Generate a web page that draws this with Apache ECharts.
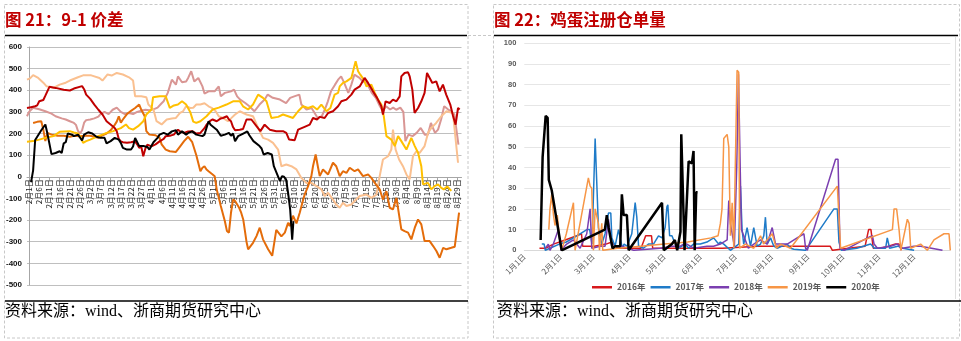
<!DOCTYPE html>
<html><head><meta charset="utf-8">
<script src="https://cdn.jsdelivr.net/npm/echarts@6/dist/echarts.min.js"></script>
<style>html,body{margin:0;padding:0;background:#fff}#c{width:961px;height:341px}</style>
</head><body><div id="c"></div>
<script>
// ---------- Left chart: 9-1 spread (x = days since 2月1日) ----------
const leftTickDays = [0,5,10,15,20,25,30,35,40,45,50,55,60,65,70,75,80,85,90,95,100,105,110,115,120,125,130,135,140,145,150,155,160,165,170,175,180,185,190,195,200,205,210];
const leftTickLabels = ['2月1日','2月6日','2月11日','2月16日','2月21日','2月26日','3月2日','3月7日','3月12日','3月17日','3月22日','3月27日','4月1日','4月6日','4月11日','4月16日','4月21日','4月26日','5月1日','5月6日','5月11日','5月16日','5月21日','5月26日','5月31日','6月5日','6月10日','6月15日','6月20日','6月25日','6月30日','7月5日','7月10日','7月15日','7月20日','7月25日','7月30日','8月4日','8月9日','8月14日','8月19日','8月24日','8月29日'];

const spreadPink = [[-1,280],[0,300],[2,319],[5,312],[8,303],[11,292],[13,280],[16,270],[18,265],[20,257],[22,249],[23,240],[24,212],[25,200],[26,215],[27,250],[28,262],[30,265],[32,270],[34,278],[35,290],[37,300],[39,290],[41,310],[43,320],[45,300],[47,290],[49,295],[51,290],[53,300],[55,305],[57,310],[59,308],[61,312],[63,320],[65,340],[66,349],[68,388],[69,418],[70,449],[72,426],[73,464],[75,437],[77,441],[78,457],[79.5,488],[81,441],[83,457],[85,418],[86,385],[88,395],[91,395],[93,418],[94,372],[96,388],[99,395],[100.5,403],[102,372],[103.5,357],[106,341],[108,326],[110.5,303],[113,334],[115.5,357],[117,380],[119.5,365],[123,357],[126,341],[128,365],[130,372],[132.5,380],[133.5,334],[136,311],[138.5,318],[140,295],[141.5,272],[143.5,280],[145,311],[146.5,349],[148,395],[150,426],[151.5,449],[153,464],[154.5,434],[156.5,388],[158,426],[159.5,472],[162,457],[163.5,441],[165.5,434],[168,388],[170,365],[172,326],[173.5,303],[175,326],[177,311],[178.5,320],[180,310],[182,320],[183.5,300],[184.5,165],[186,195],[188,188],[190,203],[192,226],[194,195],[195.5,195],[197,249],[199,203],[200.5,218],[202,265],[203.5,326],[205.5,311],[207,303],[208.5,288],[210.5,149]];
const spreadPeach = [[-1,449],[0.5,455],[2,470],[4.5,457],[7,435],[8.5,419],[12,411],[15,426],[18,435],[20,445],[24,460],[26.5,469],[30.5,469],[34.5,457],[36,445],[38.5,473],[40.5,468],[43,480],[46,473],[49,460],[51,445],[52,372],[55,372],[57.5,368],[58.5,334],[61,311],[62.5,257],[65,242],[67.5,265],[70,270],[72,272],[74,295],[75.5,303],[77,326],[79,318],[80.5,319],[82,334],[84,334],[86,340],[88,326],[89.5,319],[91.5,303],[93,280],[95,272],[97.5,257],[99,270],[101,288],[103.3,303],[106.6,288],[109.8,280],[112.3,226],[114.7,180],[117.2,172],[119.6,157],[122.1,126],[123.7,49],[126.1,57],[128.6,49],[131.1,34],[133.5,-5],[135.9,-28],[138.4,-28],[140.9,-43],[143.3,-58],[144.9,-89],[146.6,-74],[149,-105],[150.6,-128],[152.3,-143],[153.9,-120],[155.6,-135],[158,-128],[159.6,-112],[162.1,-89],[165.4,-82],[167.8,-97],[170.3,-82],[171.9,3],[173.5,80],[176,95],[177.6,126],[178.4,218],[179.7,126],[181.4,80],[183.3,49],[185,11],[186.6,-12],[188.2,95],[189.9,118],[191.5,111],[193.9,142],[195.6,203],[197.2,226],[199.6,249],[202.1,280],[204.6,303],[207.8,295],[210.3,65]];
const spreadOrange = [[2,249],[4,254],[6,257],[7,218],[8,165],[9,203],[11,195],[14,190],[17,190],[20,185],[22,190],[25,188],[28,190],[30,190],[32,185],[34,180],[36,192],[38,200],[40,215],[42,240],[43,255],[44,280],[45,250],[46,265],[48,290],[50,305],[52,318],[54,334],[55,311],[56.7,280],[57.5,211],[59,195],[62,192],[64,180],[65,150],[67,126],[69,118],[72,115],[74,140],[76,165],[78,185],[80,160],[82,100],[84,26],[85,42],[86,49],[87,34],[88,26],[90,11],[91,3],[92,-58],[94,-135],[96,-205],[97,-250],[98,-258],[99,-166],[100,-105],[101,-112],[103,-143],[104,-166],[105,-197],[106.6,-300],[107.4,-335],[109.8,-305],[111.5,-274],[113.1,-235],[114.7,-289],[117.2,-335],[119.2,-365],[121.2,-245],[123.7,-275],[125.4,-258],[127,-212],[127.8,-228],[129.4,-180],[131.1,-215],[132.7,-166],[134.4,-105],[135.2,-80],[136.8,-43],[138.4,3],[139.2,49],[140.5,103],[141.7,42],[142.5,3],[144.1,34],[146.6,11],[147.4,18],[149,65],[150.6,49],[152.3,3],[153.9,26],[155.6,18],[157.2,42],[159.6,26],[161.3,34],[163.7,3],[166.2,11],[167.8,-5],[169.5,-28],[171.9,-58],[173.5,-105],[175.2,-66],[176.8,-143],[178.4,-151],[180.1,-97],[182.5,-243],[184.1,-251],[185.8,-258],[187.4,-289],[189.1,-235],[190.7,-197],[192.3,-220],[193.9,-297],[196.4,-297],[198.1,-320],[199.7,-343],[201.3,-374],[203,-328],[204.6,-335],[207,-328],[208.7,-323],[209.5,-320],[210.8,-166]];
const spreadYellow = [[-1,162],[2,165],[5,172],[8,180],[12,188],[15,208],[20,211],[22,205],[24,200],[25,188],[26.5,157],[28,165],[30,172],[33,185],[36,195],[38,203],[41,210],[43,218],[45,225],[47.5,242],[49,225],[51,218],[53.5,234],[56,257],[57.5,288],[60,311],[60.8,368],[64,372],[67,372],[69,319],[71,330],[73,334],[75,349],[77,334],[79,300],[80.5,255],[82,249],[84,257],[87,280],[90,311],[93,320],[96.8,334],[100,349],[103.3,349],[104.9,326],[107.4,311],[109.8,334],[112.3,380],[114.7,365],[116.4,349],[118.8,272],[122.1,277],[124.5,288],[127,280],[129.4,272],[131.9,303],[134.3,326],[136.8,318],[139.2,326],[141.2,311],[143.3,334],[145.8,303],[147.7,318],[149.8,380],[151.5,388],[152.3,418],[153.9,434],[155.6,441],[158,457],[160.1,534],[161.3,488],[162.4,472],[164.1,449],[165.4,418],[167.8,426],[169.5,388],[171.1,357],[172.7,334],[173.9,280],[175.2,188],[177.6,172],[179.3,142],[180.9,188],[182.5,165],[185,126],[187.4,180],[189.1,142],[190.7,111],[192.3,49],[193.1,-35],[193.9,-43],[195.6,-28],[197.2,-58],[198.8,-43],[200.5,-35],[202.1,-51],[203.3,-58],[205,-45],[207,-65]];
const spreadDarkRed = [[-1,318],[1,322],[3,326],[4,330],[5,349],[7,355],[8,375],[10,416],[13,411],[17,402],[20,399],[22,408],[26,419],[27,405],[28,380],[30,360],[32,334],[34,310],[36,288],[38,257],[41,234],[42,226],[43,211],[44,175],[45,164],[46,160],[48,157],[50,160],[52,164],[53,150],[54,134],[55,140],[56,95],[57,130],[58,149],[60,141],[62,150],[64,164],[66,175],[67,188],[69,190],[71,195],[73,218],[74,210],[76,203],[78,210],[80,211],[82,200],[84,203],[86,225],[87,241],[89,260],[90,265],[92,257],[94,270],[95,272],[97,280],[98,265],[99,257],[100,230],[101,215],[103.3,218],[104.9,221],[106.6,265],[109,265],[109.8,272],[111.5,234],[113.4,211],[115.5,241],[118,218],[121.2,211],[124.5,211],[126.1,203],[127.5,172],[130.2,169],[131.9,218],[135.1,231],[137.6,241],[139.2,272],[141.2,265],[142.5,277],[144.9,272],[146.6,295],[149,303],[151.5,326],[153.1,349],[155.6,357],[158,380],[159.6,403],[162.1,418],[164.5,457],[166.2,434],[168.6,395],[170.6,365],[172.7,326],[173.5,288],[174.8,349],[176.8,341],[178.4,357],[180.1,349],[181.7,372],[182.5,464],[184.1,480],[185.8,483],[186.6,464],[187.9,403],[189,295],[190.7,318],[192.3,349],[193.9,388],[195.1,480],[196,488],[197.7,434],[199.6,441],[201.3,395],[202.9,426],[204.5,380],[206.5,334],[207.8,283],[209.1,241],[210.3,318],[211.1,311]];
const spreadBlack = [[1,-25],[2,30],[3,170],[4,185],[6,215],[8,242],[9,200],[11,105],[13,110],[15,118],[16,110],[17,155],[18,160],[19,200],[21,195],[22,188],[24,195],[26,168],[27,195],[29,206],[31,200],[33,185],[35,180],[37,180],[38,155],[40,165],[42,180],[44,172],[45,157],[46,134],[48,126],[50,126],[51,140],[52,180],[54,142],[56,142],[58,138],[59,126],[61,160],[63,180],[64,195],[66,203],[68,195],[70,210],[72,215],[73,195],[75,210],[77,195],[78,203],[80,210],[82,195],[85,188],[86,195],[88,257],[89,241],[92,218],[94,190],[96,195],[98,203],[99,190],[100,200],[101,165],[102.5,188],[104,195],[105,200],[107,210],[108,192],[110,165],[113,142],[114,131],[115,103],[117,110],[119,103],[120,49],[122,3],[123,-20],[124,3],[125,0],[126,-12],[127,-74],[128,-150],[129,-290],[129.6,-205]];

// ---------- Right chart: registered warrants (x = day of year) ----------
const monthTickDays = [0,31,59,90,120,151,181,212,243,273,304,334];
const monthTickLabels = ['1月1日','2月1日','3月1日','4月1日','5月1日','6月1日','7月1日','8月1日','9月1日','10月1日','11月1日','12月1日'];
const legendNames = ['2016年','2017年','2018年','2019年','2020年'];

const warrant2016 = [[13,1],[18,1],[25,3],[35,5],[45,7],[49,8],[50,2],[60,2],[70,3],[75,4],[80,1],[100,1],[104,7],[109,7],[110,1],[130,1],[170,1],[200,2],[230,2],[262,2],[264,0],[292,2],[295,10],[297,10],[299,1],[305,1],[312,2],[318,3],[321,3],[323,0]];
const warrant2017 = [[15,3],[17,3],[18,0],[22,1],[30,3],[36,4],[45,7],[53.6,10],[56,10],[58,3],[60.7,54],[63.5,11],[66.4,3],[69.2,8],[72.1,18],[74.1,18],[75,6],[77.8,2],[80.7,10],[82.5,5],[84,1],[85.5,3],[88,2],[92.1,8],[95,23],[96.4,16],[97.9,2],[102,1],[106.4,3],[110.7,3],[115,7],[118,6],[120.7,11],[122.2,21],[123,22],[124.5,7],[126.5,7],[129.3,3],[132.2,1],[135,2],[137.9,3],[140.8,1],[145,3],[150.8,3],[156.5,4],[162.2,6],[166.5,3],[168,4],[170.9,3],[176.6,0],[183.7,3],[185.2,31],[186.6,10],[188,3],[190.9,11],[193.8,2],[196.6,11],[199.5,2],[202.4,3],[205.2,7],[206.6,16],[208.1,3],[211,6],[213.8,2],[216.7,1],[221,2],[225.3,3],[228.1,1],[231,0.5],[241,0],[265.3,20],[268.2,20],[269.6,4],[271.6,0],[285,1],[296.7,3],[300,1],[309.6,1],[311,6],[313,1],[320,2],[324.3,1],[334,0]];
const warrant2018 = [[18,1],[20.6,3],[22,0],[24.9,3],[29.2,10],[31.5,0],[36.3,3],[42.1,5],[47.8,1],[53.5,8],[56.4,20],[57.8,1],[65,2],[69.2,2],[72.1,15],[74.9,2],[83.5,2],[93.6,0],[116.5,1],[126.5,2],[130.8,2],[133.6,2],[136.5,3],[139.3,3],[145,1],[156.5,2],[162.2,2],[168,3],[173.8,5],[175.2,24],[176.6,13],[178.1,8],[180,2],[182,40],[183.5,85],[184.5,85],[186,10],[188,7],[192,1],[196.6,3],[202.4,5],[208.1,3],[212.4,11],[213.8,11],[215.3,3],[225.3,3],[233.8,6],[239.6,8],[241,1],[242.5,0],[266.7,44],[268.8,44],[270.5,1],[274,0],[294,6],[298.3,7],[299.7,3],[302.6,1],[313.9,2],[319.6,3],[323.9,1],[333.9,2],[339.6,2],[358.3,0]];
const warrant2019 = [[21,10],[22,20],[23.5,27],[25,17],[26.3,12],[28.3,17],[29.8,8],[32,0],[36,8],[42.1,23],[43.5,0],[54.9,35],[56.4,31],[57.8,30],[59.2,0],[60.7,20],[62.1,20],[63.5,13],[64.4,0],[66.4,13],[67.2,0],[80,1],[100,2],[120,3],[140,4],[160,6],[166,7],[168,13],[169.4,20],[170.9,54],[173.8,56],[175.2,50],[176.6,7],[178.1,23],[179.5,1],[182.3,87],[183.7,86],[184.5,1],[189.5,3],[196.6,1],[202.4,7],[205,3],[209.5,6],[212.4,8],[216,1],[219.6,3],[228.1,1],[268.2,31],[269.6,31],[271,1],[315.4,10],[316.8,20],[319,20],[321.1,10],[322.6,0],[328.2,15],[329.7,13],[331.1,1],[339.6,3],[345.3,0],[351,5],[359.6,8],[363.9,8],[365,0]];
const warrant2020 = [[14,5],[15.7,45],[18.3,65],[20,64],[21,34],[22.6,34],[23.5,29],[32,0],[69,10],[70.7,17],[72.2,11],[75.6,1],[77.9,2],[82.2,2],[83.6,27],[85.1,17],[87.9,17],[89.4,0],[118,23],[119.5,0],[126.5,3],[129,5],[131,0],[133.8,9],[134.5,56],[135.5,56],[137.3,0],[140.8,43],[143.6,42],[145,48],[146,0],[147.3,28],[148.5,28]];

const chart = echarts.init(document.getElementById('c'), null, {renderer: 'canvas'});
const FONT = 'Liberation Sans, Arial, sans-serif';
const CJK = '"Noto Sans CJK SC", sans-serif';
const SRC_FONT = '16px "Liberation Serif", "Noto Sans CJK SC", serif';

function leftLine(data, color, width) {
  return { type: 'line', xAxisIndex: 0, yAxisIndex: 0, data, symbol: 'none', silent: true,
           lineStyle: { color, width }, itemStyle: { color } };
}
function rightLine(name, data, color, width) {
  return { type: 'line', name, xAxisIndex: 1, yAxisIndex: 1, data, symbol: 'none', silent: true,
           lineStyle: { color, width }, itemStyle: { color } };
}

const option = {
  animation: false,
  backgroundColor: '#ffffff',
  grid: [
    { left: 27, top: 47, width: 434.5, height: 238 },
    { left: 524.3, top: 43.3, width: 426, height: 207 },
    // overlay grid whose bottom edge sits on the zero line of the left chart (date labels hang from y=0)
    { left: 27, top: 47, width: 434.5, height: 130.3 }
  ],
  xAxis: [
    { type: 'value', gridIndex: 0, min: -1, max: 212,
      axisLine: { show: false }, axisTick: { show: false }, axisLabel: { show: false }, splitLine: { show: false } },
    { type: 'value', gridIndex: 1, min: 0, max: 365,
      axisLine: { onZero: false, lineStyle: { color: '#D9D9D9', width: 1 } },
      axisTick: { show: false },
      axisLabel: { customValues: monthTickDays, rotate: 45, fontSize: 8, color: '#595959', fontFamily: CJK, margin: 5,
                   formatter: v => monthTickLabels[monthTickDays.indexOf(v)] || '' },
      splitLine: { show: false } },
    { type: 'value', gridIndex: 2, min: -1, max: 212,
      axisLine: { show: true, onZero: false, lineStyle: { color: '#A6A6A6', width: 1 } },
      axisTick: { show: true, customValues: leftTickDays, length: 3, lineStyle: { color: '#A6A6A6' } },
      axisLabel: { customValues: leftTickDays, rotate: 90, fontSize: 8, color: '#222', fontFamily: CJK, margin: 2,
                   formatter: v => leftTickLabels[leftTickDays.indexOf(v)] || '' },
      splitLine: { show: false } }
  ],
  yAxis: [
    { type: 'value', gridIndex: 0, min: -500, max: 600, interval: 100,
      axisLine: { show: true, lineStyle: { color: '#A6A6A6' } },
      axisTick: { show: false },
      axisLabel: { fontSize: 8, color: '#111', fontFamily: FONT, fontWeight: 'bold', margin: 5 },
      splitLine: { show: true, lineStyle: { color: '#BFBFBF', width: 1 } } },
    { type: 'value', gridIndex: 1, min: 0, max: 100, interval: 10,
      axisLine: { show: false }, axisTick: { show: false },
      axisLabel: { fontSize: 7.5, color: '#595959', fontFamily: FONT, fontWeight: 'bold', margin: 8 },
      splitLine: { show: true, lineStyle: { color: '#E6E6E6', width: 1 } } },
    { type: 'value', gridIndex: 2, min: 0, max: 1, show: false }
  ],
  legend: {
    data: legendNames, left: 592, top: 283, itemWidth: 20, itemHeight: 2.5, itemGap: 5, padding: 0, icon: 'rect',
    textStyle: { fontSize: 8.5, color: '#595959', fontFamily: CJK, fontWeight: 'bold' },
    selectedMode: false
  },
  series: [
    leftLine(spreadPink, '#D99694', 2),
    leftLine(spreadPeach, '#FAC090', 2),
    leftLine(spreadOrange, '#E46C0A', 2),
    leftLine(spreadYellow, '#FFC000', 2),
    leftLine(spreadDarkRed, '#C00000', 2),
    leftLine(spreadBlack, '#000000', 2),
    rightLine(legendNames[0], warrant2016, '#D7191C', 1.5),
    rightLine(legendNames[1], warrant2017, '#1F7BC8', 1.5),
    rightLine(legendNames[2], warrant2018, '#7B3FB0', 1.5),
    rightLine(legendNames[3], warrant2019, '#F79646', 1.5),
    rightLine(legendNames[4], warrant2020, '#000000', 2.5)
  ],
  graphic: [
    { type: 'rect', silent: true, shape: { x: 4.5, y: 4.5, width: 463.5, height: 333.5 },
      style: { fill: 'none', stroke: '#C8C8C8', lineWidth: 1, lineDash: [3, 2] } },
    { type: 'rect', silent: true, shape: { x: 493.5, y: 4.5, width: 466, height: 333.5 },
      style: { fill: 'none', stroke: '#C8C8C8', lineWidth: 1, lineDash: [3, 2] } },
    { type: 'line', silent: true, shape: { x1: 468, y1: 35.5, x2: 493, y2: 35.5 },
      style: { stroke: '#C8C8C8', lineWidth: 1, lineDash: [3, 2] } },
    { type: 'line', silent: true, shape: { x1: 955.5, y1: 37, x2: 955.5, y2: 299 },
      style: { stroke: '#E0E0E0', lineWidth: 1 } },
    { type: 'line', silent: true, shape: { x1: 5, y1: 35.5, x2: 467, y2: 35.5 }, style: { stroke: '#000', lineWidth: 1.5 } },
    { type: 'line', silent: true, shape: { x1: 494, y1: 35.5, x2: 958, y2: 35.5 }, style: { stroke: '#000', lineWidth: 1.5 } },
    { type: 'line', silent: true, shape: { x1: 5, y1: 301, x2: 468, y2: 301 }, style: { stroke: '#000', lineWidth: 1.5 } },
    { type: 'line', silent: true, shape: { x1: 497, y1: 301, x2: 961, y2: 301 }, style: { stroke: '#000', lineWidth: 1.5 } },
    { type: 'text', silent: true, left: 5, top: 11,
      style: { text: '图 21：9-1 价差', fill: '#C00000', font: 'bold 16.5px "Noto Sans CJK SC", sans-serif' } },
    { type: 'text', silent: true, left: 494, top: 11,
      style: { text: '图 22：鸡蛋注册仓单量', fill: '#C00000', font: 'bold 16.5px "Noto Sans CJK SC", sans-serif' } },
    { type: 'text', silent: true, left: 5, top: 304,
      style: { text: '资料来源：wind、浙商期货研究中心', fill: '#000', font: SRC_FONT } },
    { type: 'text', silent: true, left: 497, top: 304,
      style: { text: '资料来源：wind、浙商期货研究中心', fill: '#000', font: SRC_FONT } }
  ]
};
chart.setOption(option);
</script></body></html>
